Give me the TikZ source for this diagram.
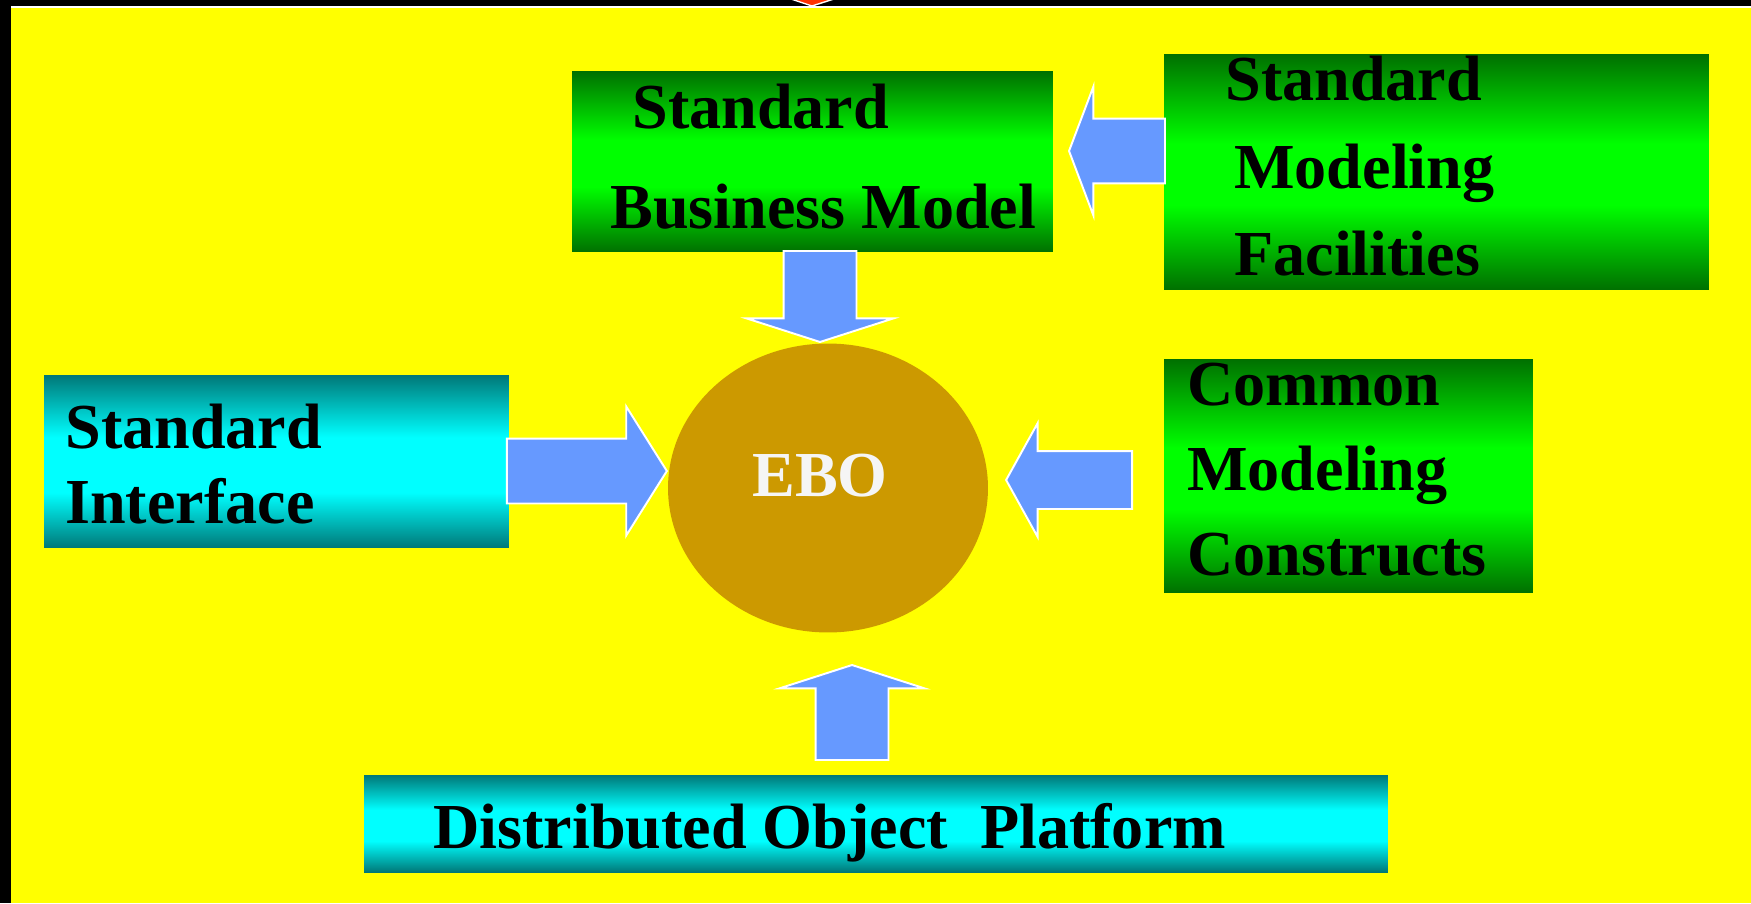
\documentclass[tikz,border=0pt]{standalone}
\usepackage{fontspec}
\setmainfont{Liberation Serif}
\usepackage{tikz}
\usetikzlibrary{shapes.geometric, shapes.arrows, positioning}
\definecolor{bgyellow}{RGB}{255,255,0}
\definecolor{darkgreen}{RGB}{0,112,0}
\definecolor{brightgreen}{RGB}{0,255,0}
\definecolor{darkteal}{RGB}{0,120,120}
\definecolor{brightcyan}{RGB}{0,255,255}
\definecolor{arrowblue}{RGB}{102,153,255}
\definecolor{ebocolor}{RGB}{204,153,0}
\definecolor{tipred}{RGB}{255,51,0}
\pgfdeclareverticalshading{greenfade}{100bp}{color(0bp)=(darkgreen); color(25bp)=(darkgreen); color(43bp)=(brightgreen); color(56bp)=(brightgreen); color(75bp)=(darkgreen); color(100bp)=(darkgreen)}
\pgfdeclareverticalshading{cyanfade}{100bp}{color(0bp)=(darkteal); color(25bp)=(darkteal); color(41bp)=(brightcyan); color(57bp)=(brightcyan); color(75bp)=(darkteal); color(100bp)=(darkteal)}

\begin{document}
\begin{tikzpicture}[x=0.02cm, y=-0.02cm,
    greenbox/.style={rectangle, inner sep=0pt, shading=greenfade},
    cyanbox/.style={rectangle, inner sep=0pt, shading=cyanfade},
    boxtext/.style={anchor=base west, inner sep=0pt, font=\fontsize{36.5}{40}\selectfont\bfseries},
    fatarrow/.style={single arrow, fill=arrowblue, draw=white, line width=1.1pt, inner sep=0pt}]
    \useasboundingbox (0,0) rectangle (1751,903);

    % Background
    \fill[black] (0,0) rectangle (1751,903);
    \fill[bgyellow] (11,8) rectangle (1751,903);
    \draw[white, line width=0.8pt] (11,7) -- (1751,7);
    \filldraw[fill=tipred, draw=white, line width=0.8pt] (788,-2) -- (812,6) -- (837,-2);

    % Boxes
    \node[greenbox, minimum width=9.62cm, minimum height=3.62cm] (sbm) at (812.5,161.5) {};
    \node[greenbox, minimum width=10.9cm, minimum height=4.72cm] (smf) at (1436.5,172) {};
    \node[cyanbox, minimum width=9.3cm, minimum height=3.46cm] (si) at (276.5,461.5) {};
    \node[greenbox, minimum width=7.38cm, minimum height=4.68cm] (cmc) at (1348.5,476) {};
    \node[cyanbox, minimum width=20.48cm, minimum height=1.94cm] (dop) at (876,823.5) {};
    \node[ellipse, fill=ebocolor, minimum width=6.4cm, minimum height=5.78cm, inner sep=0pt] (ebo) at (828,488) {};

    % Box texts
    \node[boxtext] (sbm1) at (632,128) {Standard};
    \node[boxtext] (sbm2) at (610,228) {Business Model};
    \node[boxtext] (smf1) at (1225,100) {Standard};
    \node[boxtext] (smf2) at (1234,188) {Modeling};
    \node[boxtext] (smf3) at (1234,275) {Facilities};
    \node[boxtext] (si1) at (65,448) {Standard};
    \node[boxtext] (si2) at (65,523) {Interface};
    \node[boxtext] (cmc1) at (1187,405) {Common};
    \node[boxtext] (cmc2) at (1187,490) {Modeling};
    \node[boxtext] (cmc3) at (1187,575) {Constructs};
    \node[boxtext] (dop1) at (433,848) {Distributed Object\ \ Platform};
    \node[boxtext, anchor=base, text={rgb,255:red,245;green,245;blue,245}] (ebo1) at (820,496) {EBO};

    % Block arrows
    \node[fatarrow, shape border rotate=180, anchor=tip, inner ysep=0.63cm, minimum height=1.92cm, single arrow head extend=0.64cm, single arrow tip angle=138.6] (a1) at (1068,151) {};
    \node[fatarrow, shape border rotate=270, anchor=tip, inner xsep=0.71cm, minimum height=1.82cm, single arrow head extend=0.74cm, single arrow tip angle=144.4] (a2) at (820,343) {};
    \node[fatarrow, anchor=tip, inner ysep=0.63cm, minimum height=3.2cm, single arrow head extend=0.64cm, single arrow tip angle=115.6] (a3) at (668,471) {};
    \node[fatarrow, shape border rotate=180, anchor=tip, inner ysep=0.56cm, minimum height=2.52cm, single arrow head extend=0.56cm, single arrow tip angle=122] (a4) at (1005,480) {};
    \node[fatarrow, shape border rotate=90, anchor=tip, inner xsep=0.71cm, minimum height=1.9cm, single arrow head extend=0.72cm, single arrow tip angle=144.3] (a5) at (852,664) {};
\end{tikzpicture}
\end{document}
